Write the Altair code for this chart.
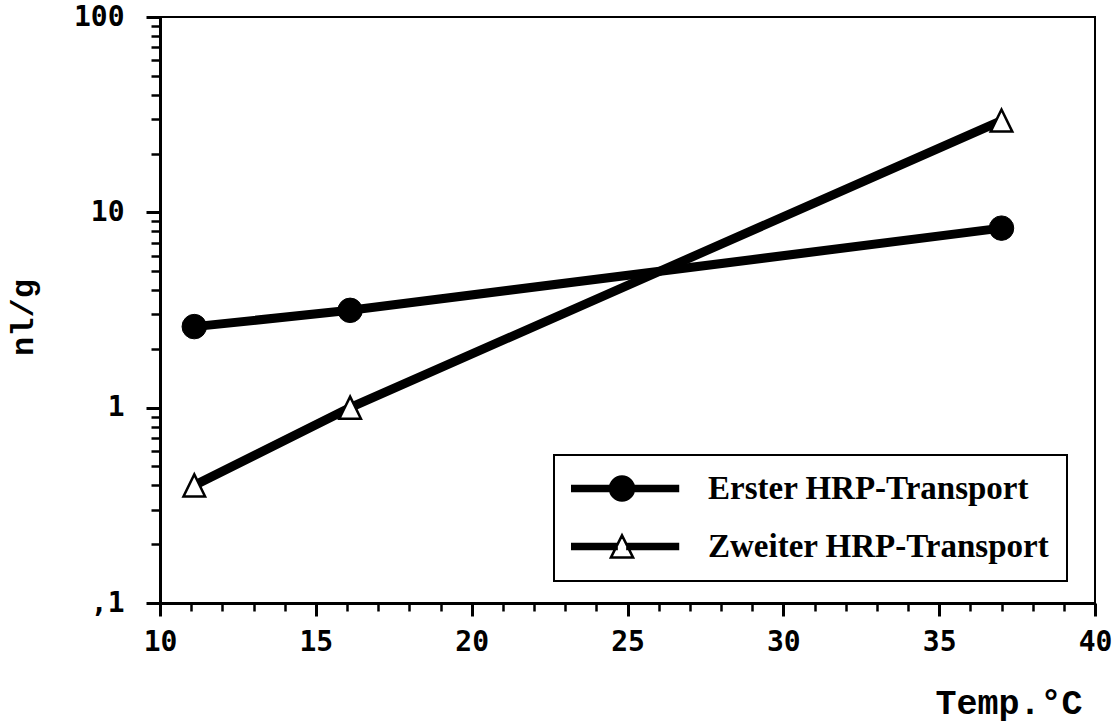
import altair as alt
import pandas as pd

# Measured transport values (nl/g) at three temperatures
temps = [11.1, 16.1, 37.0]
erster = [2.6, 3.15, 8.3]
zweiter = [0.4, 1.0, 29.5]
series_names = ["Erster HRP-Transport", "Zweiter HRP-Transport"]

# Axis tick positions
x_major = [10, 15, 20, 25, 30, 35, 40]
x_minor = [v for v in range(11, 40) if v % 5]
y_major = [0.1, 1, 10, 100]
y_minor = [m * d for d in (0.1, 1, 10) for m in range(2, 10)]

df = pd.DataFrame({
    "temp": temps * 2,
    "value": erster + zweiter,
    "series": [series_names[0]] * len(temps) + [series_names[1]] * len(temps),
})

xs = alt.Scale(domain=[10, 40], nice=False, zero=False)
ys = alt.Scale(type="log", domain=[0.1, 100], nice=False)

# Legend symbols: thick line segment with the series marker on it.
# Path units are scaled by sqrt(symbolSize)/2 = 60 px; the line is drawn
# as a thin outlined bar plus a centre stroke so it reads as one solid line.
legend_circle = (
    "M-1.175,-0.042H0.758V0.042H-1.175Z M-1.175,0H0.758 "
    "M-0.375,0A0.2,0.2,0,1,1,0.025,0A0.2,0.2,0,1,1,-0.375,0Z"
)
legend_triangle = (
    "M-1.175,-0.042H-0.265V0.042H-1.175Z M-1.175,0H-0.265 "
    "M-0.085,-0.042H0.758V0.042H-0.085Z M-0.085,0H0.758 "
    "M-0.175,-0.185L0.01,0.185L-0.36,0.185Z"
)
data_triangle = "M0,-0.92L0.9,0.92L-0.9,0.92Z"

mono_ticks = "DejaVu Sans Mono"
mono_title = "Liberation Mono"
tick_color = "black"

x_axis = alt.Axis(
    values=x_major, orient="bottom", format="d", grid=False, ticks=True,
    tickSize=13, tickWidth=3, tickColor=tick_color,
    domainColor="black", domainWidth=3,
    labelFont=mono_ticks, labelFontWeight="bold", labelFontSize=28,
    labelColor="black", labelPadding=12,
    labelFlush=False, labelOverlap=False,
    title="Temp.°C", titleFont=mono_title, titleFontWeight="bold",
    titleFontSize=35, titleColor="black", titleX=922, titleY=110,
    titleAlign="right", titleBaseline="alphabetic",
)
y_axis = alt.Axis(
    values=y_major, orient="left", grid=False, ticks=True,
    labelExpr="replace(format(datum.value, '~g'), '0.', ',')",
    tickSize=14, tickWidth=3, tickColor=tick_color,
    domainColor="black", domainWidth=3,
    labelFont=mono_ticks, labelFontWeight="bold", labelFontSize=28,
    labelColor="black", labelPadding=22, labelOverlap=False, labelFlush=False,
    title="nl/g", titleFont=mono_title, titleFontWeight="bold",
    titleFontSize=32, titleColor="black", titleAngle=270,
    titleX=-138, titleY=300, titleAlign="center", titleBaseline="middle",
)
x_minor_axis = alt.Axis(
    values=x_minor, orient="bottom", labels=False, domain=False, grid=False,
    ticks=True, tickSize=8, tickWidth=2.5, tickColor=tick_color, title=None,
)
y_minor_axis = alt.Axis(
    values=y_minor, orient="left", labels=False, domain=False, grid=False,
    ticks=True, tickSize=9, tickWidth=2.5, tickColor=tick_color, title=None,
)

base = alt.Chart(df)

minor = base.mark_point(opacity=0).encode(
    x=alt.X("temp:Q", scale=xs, axis=x_minor_axis),
    y=alt.Y("value:Q", scale=ys, axis=y_minor_axis),
)

lines = base.mark_line(color="black", strokeWidth=9).encode(
    x=alt.X("temp:Q", scale=xs, axis=x_axis),
    y=alt.Y("value:Q", scale=ys, axis=y_axis),
    detail="series:N",
)

circles = base.transform_filter(
    alt.datum.series == series_names[0]
).mark_point(
    shape="circle", filled=True, fill="black", stroke="black",
    strokeWidth=1, size=600, opacity=1,
).encode(
    x=alt.X("temp:Q", scale=xs, axis=None),
    y=alt.Y("value:Q", scale=ys, axis=None),
)

triangles = base.transform_filter(
    alt.datum.series == series_names[1]
).mark_point(
    shape=data_triangle, filled=True, fill="white", stroke="black",
    strokeWidth=2.5, size=576, opacity=1,
).encode(
    x=alt.X("temp:Q", scale=xs, axis=None),
    y=alt.Y("value:Q", scale=ys, axis=None),
)

legend = alt.Legend(
    title=None, orient="none", legendX=394, legendY=438,
    padding=17, rowPadding=24, clipHeight=33,
    symbolSize=14400, symbolOpacity=1, symbolStrokeWidth=2.5,
    symbolStrokeColor="black",
    labelOffset=14, labelLimit=800,
    labelFont="Liberation Serif", labelFontWeight="bold",
    labelFontSize=33, labelColor="black",
    strokeColor="black", fillColor="white",
)

legend_layer = base.mark_point(
    filled=True, opacity=0, strokeWidth=2.5,
).encode(
    x=alt.X("temp:Q", scale=xs, axis=None),
    y=alt.Y("value:Q", scale=ys, axis=None),
    fill=alt.Fill("series:N", scale=alt.Scale(domain=series_names, range=["black", "white"]), legend=legend),
    stroke=alt.Stroke("series:N", scale=alt.Scale(domain=series_names, range=["black", "black"]), legend=legend),
    shape=alt.Shape("series:N", scale=alt.Scale(domain=series_names, range=[legend_circle, legend_triangle]), legend=legend),
)

chart = alt.layer(minor, lines, circles, triangles, legend_layer).resolve_axis(
    x="independent", y="independent"
).properties(
    width=935, height=586,
    padding={"left": 160, "top": 17, "right": 19, "bottom": 123},
    autosize=alt.AutoSizeParams(type="none"),
).configure_view(
    stroke="black", strokeWidth=2
).configure_legend(
    strokeWidth=2
)

chart.save("out.html", embed_options={"renderer": "svg", "actions": False})
